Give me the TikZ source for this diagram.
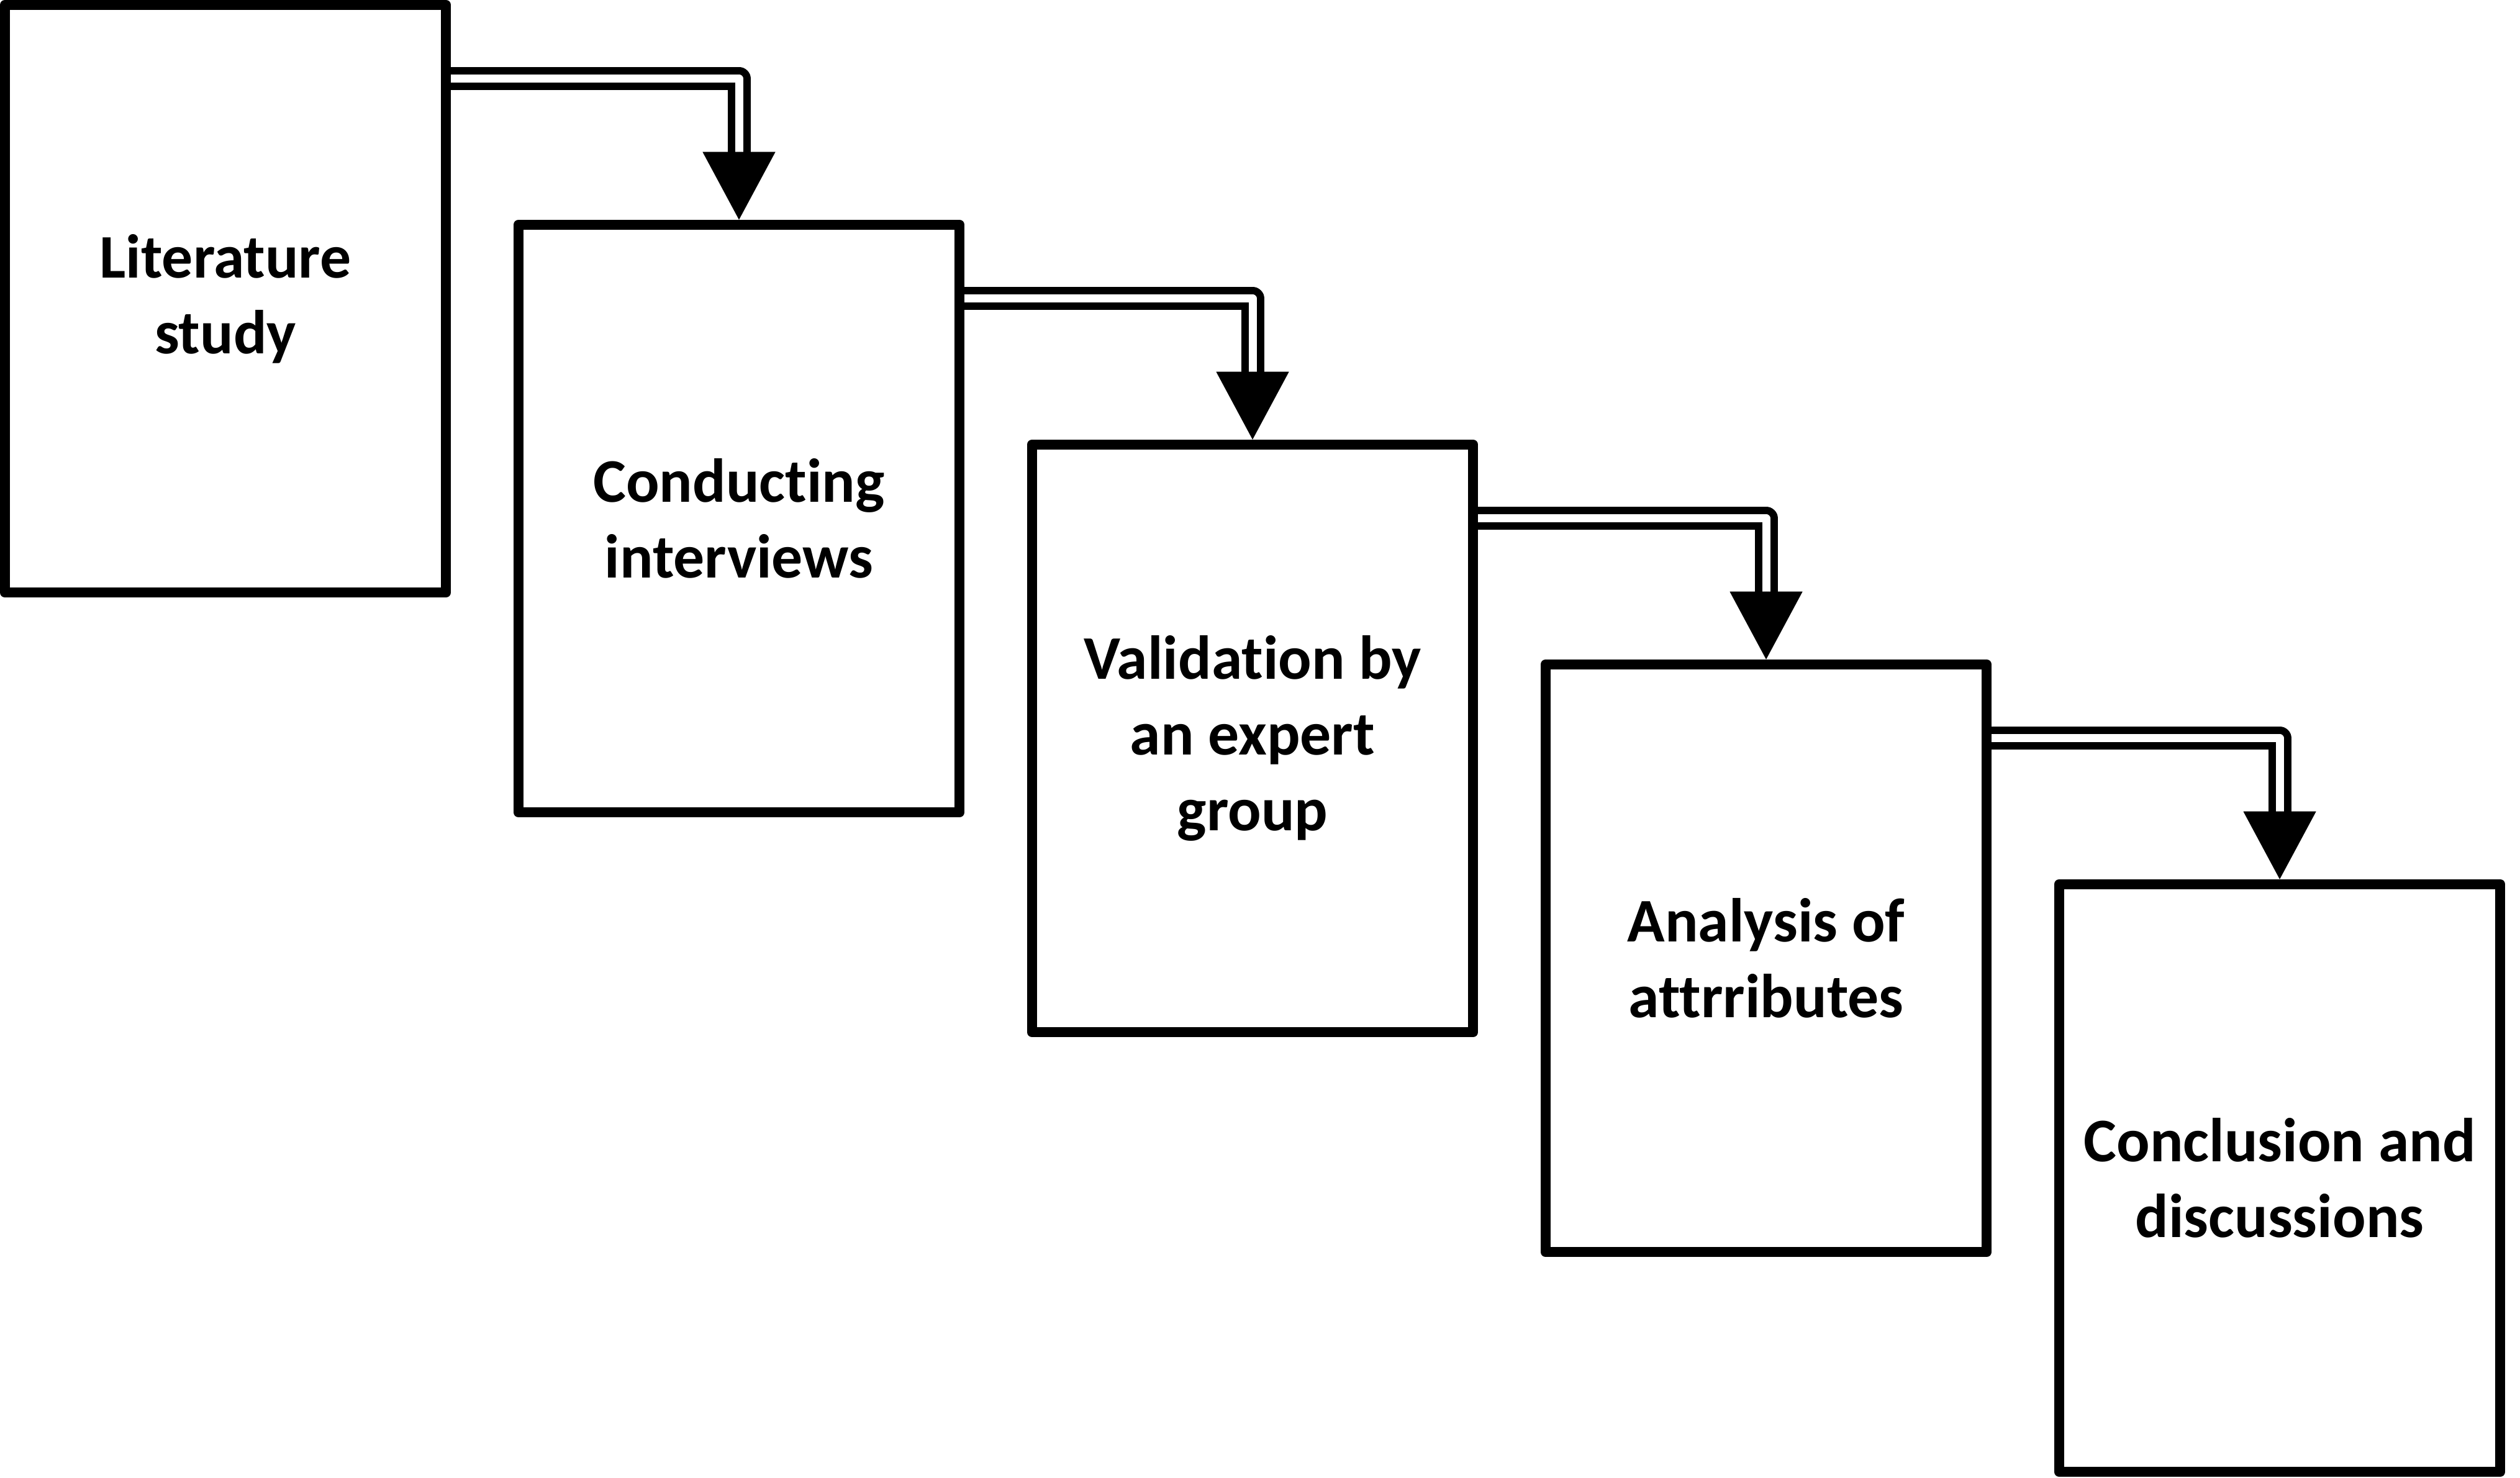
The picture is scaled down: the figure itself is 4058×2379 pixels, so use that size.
\documentclass[tikz,border=0pt]{standalone}
\usepackage{fontspec}
\setmainfont{Carlito}[Ligatures=NoCommon]
\usetikzlibrary{calc,arrows.meta}
\begin{document}
\begin{tikzpicture}[x=0.01cm,y=-0.01cm,
  stepbox/.style={draw, line width=0.16cm, line join=round, minimum width=7.10cm,
    minimum height=9.46cm, inner sep=0pt, align=center,
    font=\bfseries\fontsize{28.4}{34.7}\selectfont},
  dbl/.style={draw, double, line width=0.12cm, double distance=0.13cm, line join=round},
  tipline/.style={-{Triangle[width=1.17cm,length=1.09cm]}, line width=0.1pt}]
\useasboundingbox (0,0) rectangle (4058,2379);
\node[stepbox] (b1) at (363,481) {Literature\\study};
\node[stepbox] (b2) at (1190,835) {Conducting\\interviews};
\node[stepbox] (b3) at (2017,1189) {Validation by\\an expert\\group};
\node[stepbox] (b4) at (2844,1543) {Analysis of\\attrributes};
\node[stepbox] (b5) at (3671,1897) {Conclusion and\\discussions};
\foreach \a/\b in {b1/b2,b2/b3,b3/b4,b4/b5}{
  \draw[dbl] ($(\a.north east)+(0,127)$) -| ($(\b.north)+(0,-109)$);
  \draw[tipline] ($(\b.north)+(0,-109)$) -- (\b.north);
}
\end{tikzpicture}
\end{document}
